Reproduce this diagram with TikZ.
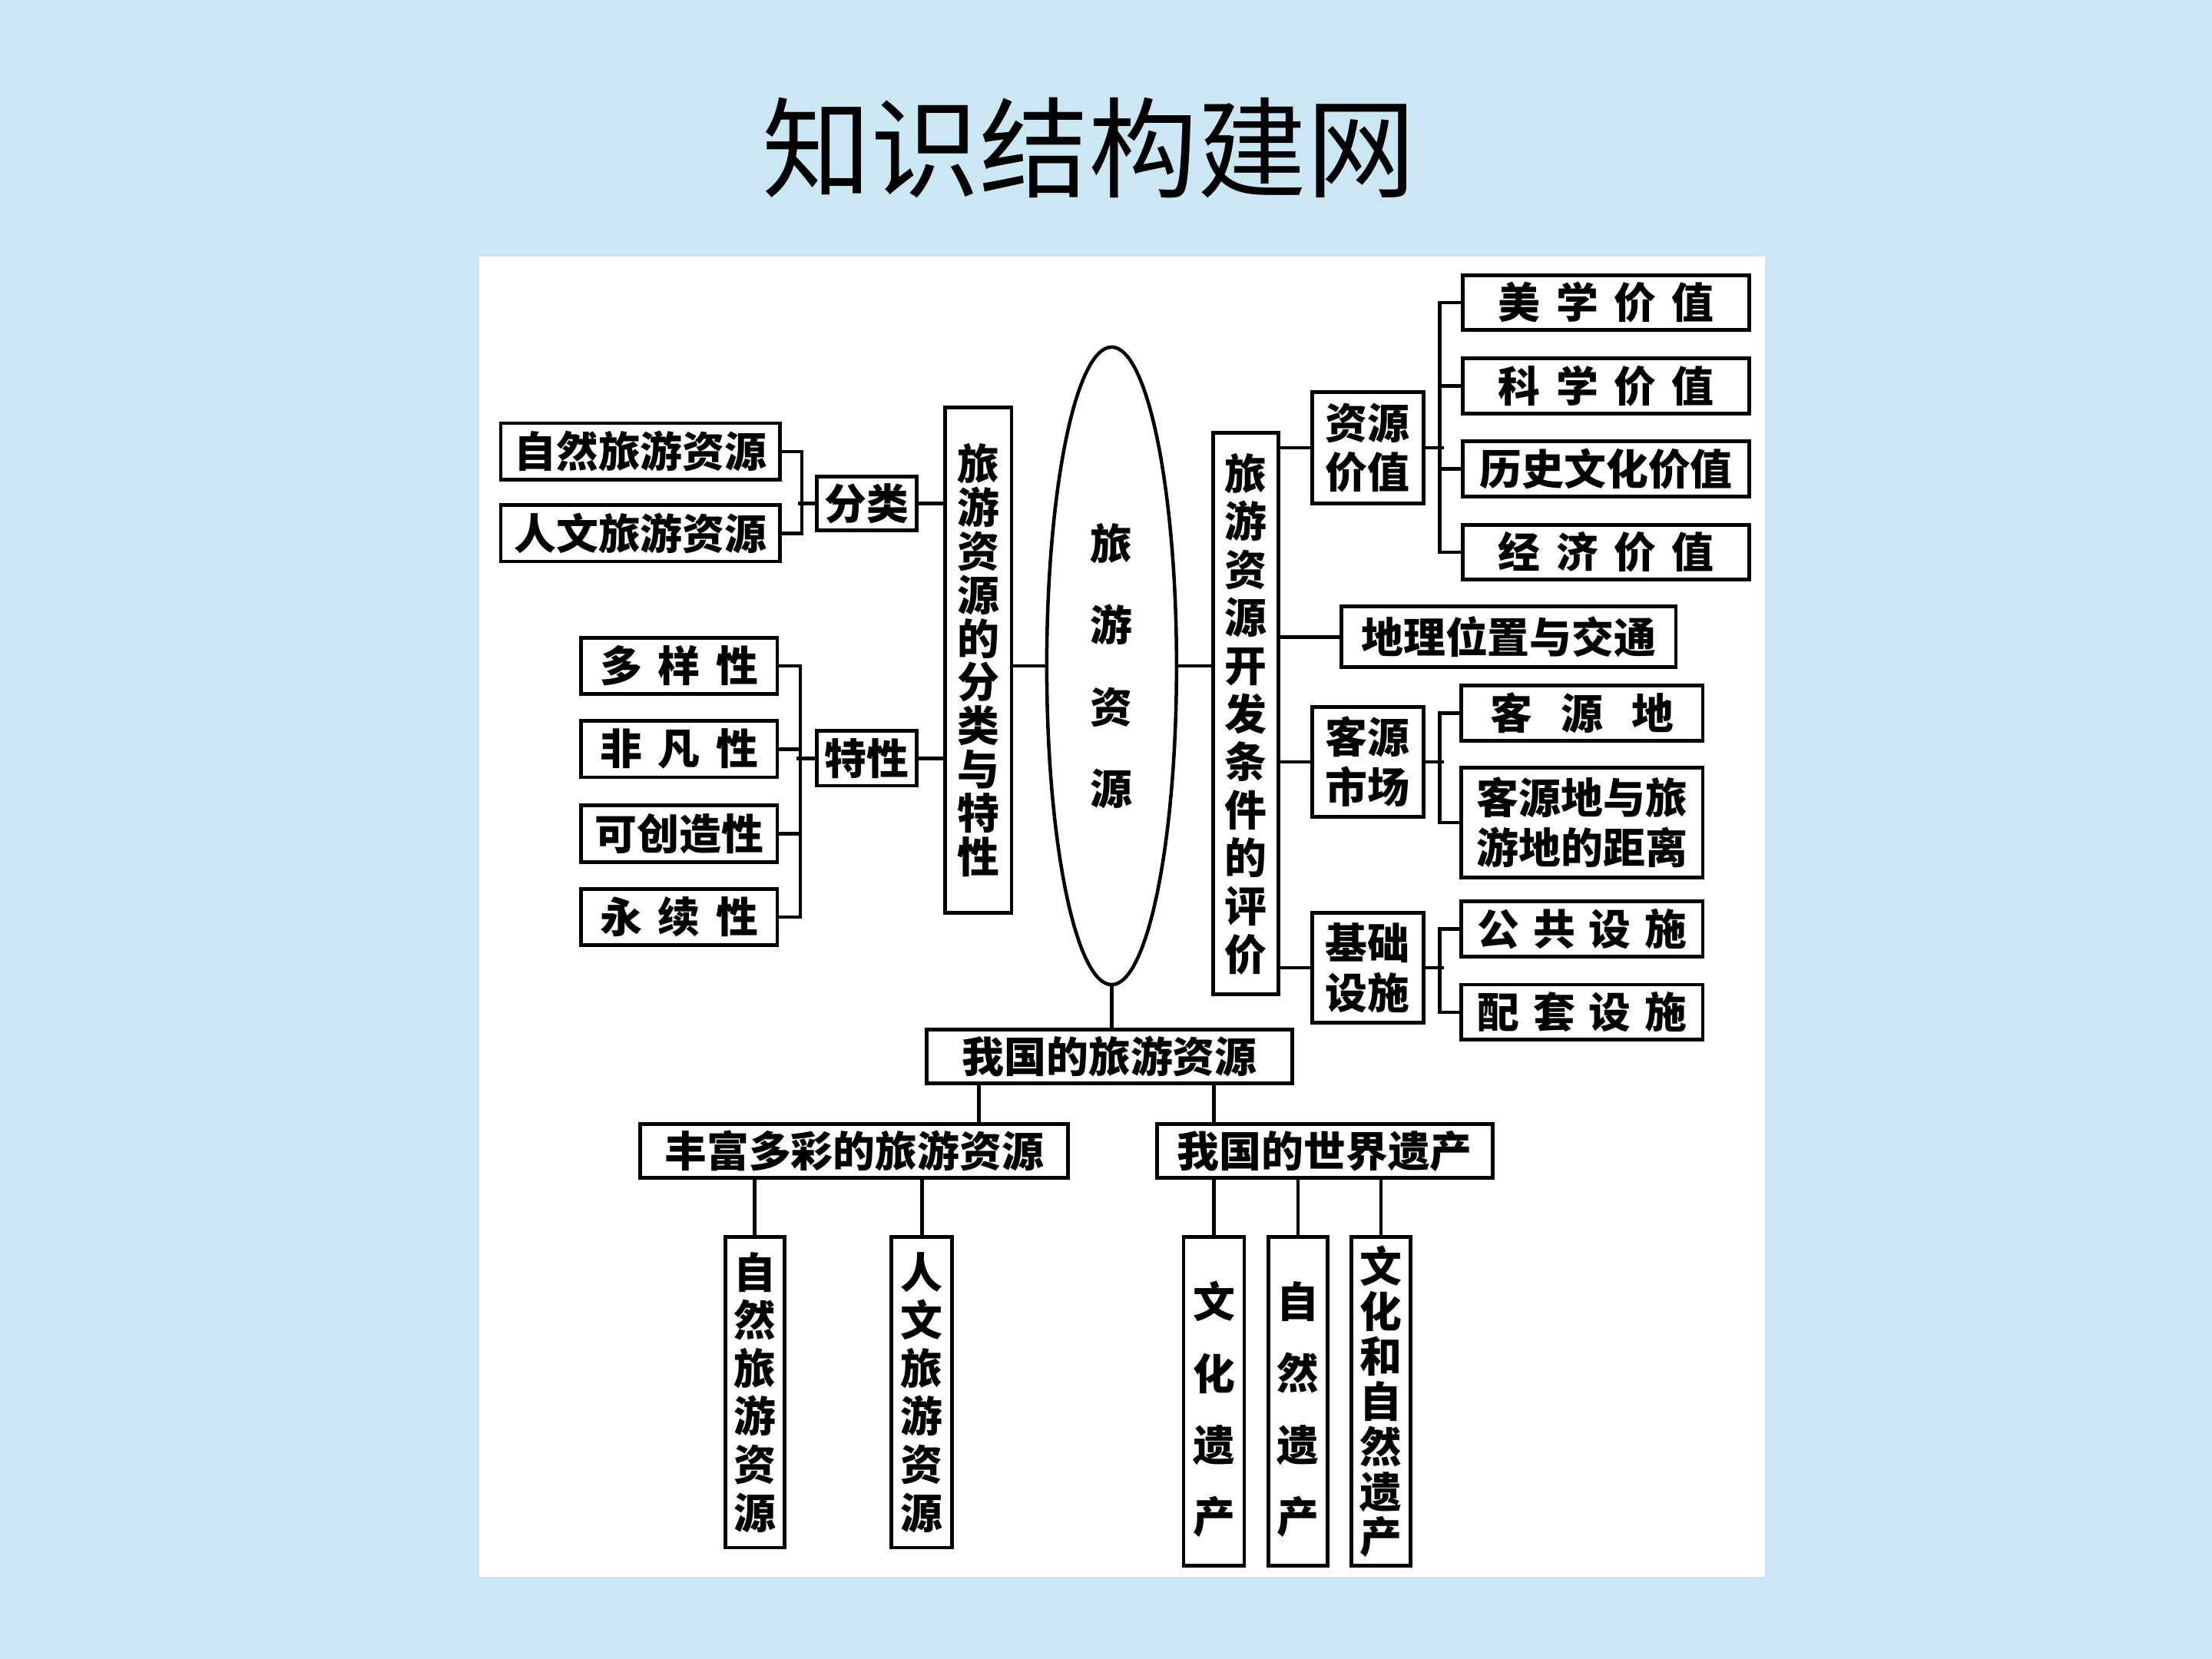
\documentclass[tikz,border=0pt]{standalone}
\usepackage{fontspec}
\newfontfamily\cjk{Noto Sans CJK SC}
\usetikzlibrary{calc,shapes.geometric}
\definecolor{bgblue}{RGB}{202,231,243}
\newcommand{\gp}[1]{\hspace{#1em}}
\begin{document}
\begin{tikzpicture}[x=0.02cm,y=-0.02cm,
  sz/.style 2 args={minimum width=#1*0.02cm, minimum height=#2*0.02cm},
  bx/.style={draw, line width=1.5pt, inner sep=0pt, align=center, font=\cjk\bfseries\fontsize{17pt}{20pt}\selectfont},
  vt/.style={font=\cjk\bfseries\fontsize{17pt}{#1pt}\selectfont},
  plain/.style={draw=none, inner sep=0pt, align=center},
  ln/.style={line width=1.4pt}]
\useasboundingbox (0,0) rectangle (1568,1176);
\fill[bgblue] (0,0) rectangle (1568,1176);
\fill[white] (340,182) rectangle (1251,1118);
\node[font=\cjk\fontsize{44pt}{50pt}\selectfont] (title) at (772,105) {知识结构建网};

% left side
\node[bx, sz={198}{40}] (zr) at (454,320) {自然旅游资源};
\node[bx, sz={198}{40}] (rw) at (454,378) {人文旅游资源};
\node[bx, sz={71}{38}] (fl) at (614.5,357) {分类};
\node[bx, vt=17.6, sz={47}{358}] (L) at (693.5,468) {旅\\游\\资\\源\\的\\分\\类\\与\\特\\性};
\node[bx, sz={139}{40}] (t1) at (481.5,472) {多\gp{.37}样\gp{.37}性};
\node[bx, sz={139}{40}] (t2) at (481.5,531) {非\gp{.37}凡\gp{.37}性};
\node[bx, sz={139}{40}] (t3) at (481.5,591) {可创造性};
\node[bx, sz={139}{40}] (t4) at (481.5,650) {永\gp{.37}续\gp{.37}性};
\node[bx, sz={71}{39}] (tx) at (614.5,537.5) {特性};

% centre
\node[draw, ellipse, line width=1.4pt, inner sep=0pt, sz={92}{452}, align=center,
      font=\cjk\bfseries\fontsize{17pt}{33pt}\selectfont] (E) at (788,472) {旅\\游\\资\\源};

% right side
\node[bx, vt=19.4, sz={46}{398}] (R) at (883,506) {旅\\游\\资\\源\\开\\发\\条\\件\\的\\评\\价};
\node[bx, vt=20, sz={79}{79}] (zy) at (969.5,317.5) {资源\\价值};
\node[bx, sz={203}{39}] (mx) at (1138.5,214.5) {美\gp{.37}学\gp{.37}价\gp{.37}值};
\node[bx, sz={203}{39}] (kx) at (1138.5,273.5) {科\gp{.37}学\gp{.37}价\gp{.37}值};
\node[bx, sz={203}{39}] (ls) at (1138.5,332.5) {历史文化价值};
\node[bx, sz={203}{39}] (jj) at (1138.5,391.5) {经\gp{.37}济\gp{.37}价\gp{.37}值};
\node[bx, sz={237}{43}] (dl) at (1069.5,451.5) {地理位置与交通};
\node[bx, vt=20, sz={79}{78}] (ky) at (969.5,540) {客源\\市场};
\node[bx, sz={171}{39}] (kyd) at (1121.5,505.5) {客\gp{.67}源\gp{.67}地};
\node[bx, vt=20, sz={171}{78}] (jl) at (1121.5,583) {客源地与旅\\游地的距离};
\node[bx, vt=20, sz={79}{78}] (jc) at (969.5,686) {基础\\设施};
\node[bx, sz={171}{39}] (gg) at (1121.5,658.5) {公\gp{.32}共\gp{.32}设\gp{.32}施};
\node[bx, sz={171}{39}] (pt) at (1121.5,717.5) {配\gp{.32}套\gp{.32}设\gp{.32}施};

% bottom
\node[bx, sz={259}{38}] (cn) at (786.5,749) {我国的旅游资源};
\node[bx, sz={303}{38}] (rich) at (605.5,816) {丰富多彩的旅游资源};
\node[bx, sz={238}{38}] (wh) at (939,816) {我国的世界遗产};
\node[bx, vt=19.4, sz={42}{220}] (b1) at (535,987) {自\\然\\旅\\游\\资\\源};
\node[bx, vt=19.4, sz={43}{220}] (b2) at (653.5,987) {人\\文\\旅\\游\\资\\源};
\node[bx, sz={43}{233}] (b3) at (860.5,993.5) {};
\node[bx, vt=28.9, plain] (b3t) at (860.5,999) {文\\化\\遗\\产};
\node[bx, sz={42}{233}] (b4) at (920,993.5) {};
\node[bx, vt=28.9, plain] (b4t) at (920,999) {自\\然\\遗\\产};
\node[bx, vt=18.2, sz={42}{233}] (b5) at (979,993.5) {文\\化\\和\\自\\然\\遗\\产};

% connectors left
\draw[ln] (zr.east) -- ++(14,0) |- (rw.east);
\draw[ln] (fl.west) -- ++(-12,0);
\draw[ln] (fl.east) -- (fl.east -| L.west);
\draw[ln] (t1.east) -- ++(15,0) |- (t4.east);
\draw[ln] (t2.east) -- ++(15,0);
\draw[ln] (t3.east) -- ++(15,0);
\draw[ln] (tx.west) -- ++(-13,0);
\draw[ln] (tx.east) -- (tx.east -| L.west);
\draw[ln] (L.east |- E.west) -- (E.west);
% connectors right
\draw[ln] (E.east) -- (E.east -| R.west);
\draw[ln] (R.east |- zy.west) -- (zy.west);
\draw[ln] (zy.east) -- ++(13,0);
\draw[ln] (mx.west) -- ++(-15,0) |- (jj.west);
\draw[ln] (kx.west) -- ++(-15,0);
\draw[ln] (ls.west) -- ++(-15,0);
\draw[ln] (R.east |- dl.west) -- (dl.west);
\draw[ln] (R.east |- ky.west) -- (ky.west);
\draw[ln] (ky.east) -- ++(13,0);
\draw[ln] (kyd.west) -- ++(-14,0) |- (jl.west);
\draw[ln] (R.east |- jc.west) -- (jc.west);
\draw[ln] (jc.east) -- ++(13,0);
\draw[ln] (gg.west) -- ++(-14,0) |- (pt.west);
% connectors bottom
\draw[ln] (E.south) -- (E.south |- cn.north);
\coordinate (cnl) at (694,749);
\draw[ln] (cnl |- cn.south) -- (cnl |- rich.north);
\draw[ln] (b3.north |- cn.south) -- (b3.north |- wh.north);
\draw[ln] (b1.north) -- (b1.north |- rich.south);
\draw[ln] (b2.north) -- (b2.north |- rich.south);
\draw[ln] (b3.north) -- (b3.north |- wh.south);
\draw[ln] (b4.north) -- (b4.north |- wh.south);
\draw[ln] (b5.north) -- (b5.north |- wh.south);
\end{tikzpicture}
\end{document}
